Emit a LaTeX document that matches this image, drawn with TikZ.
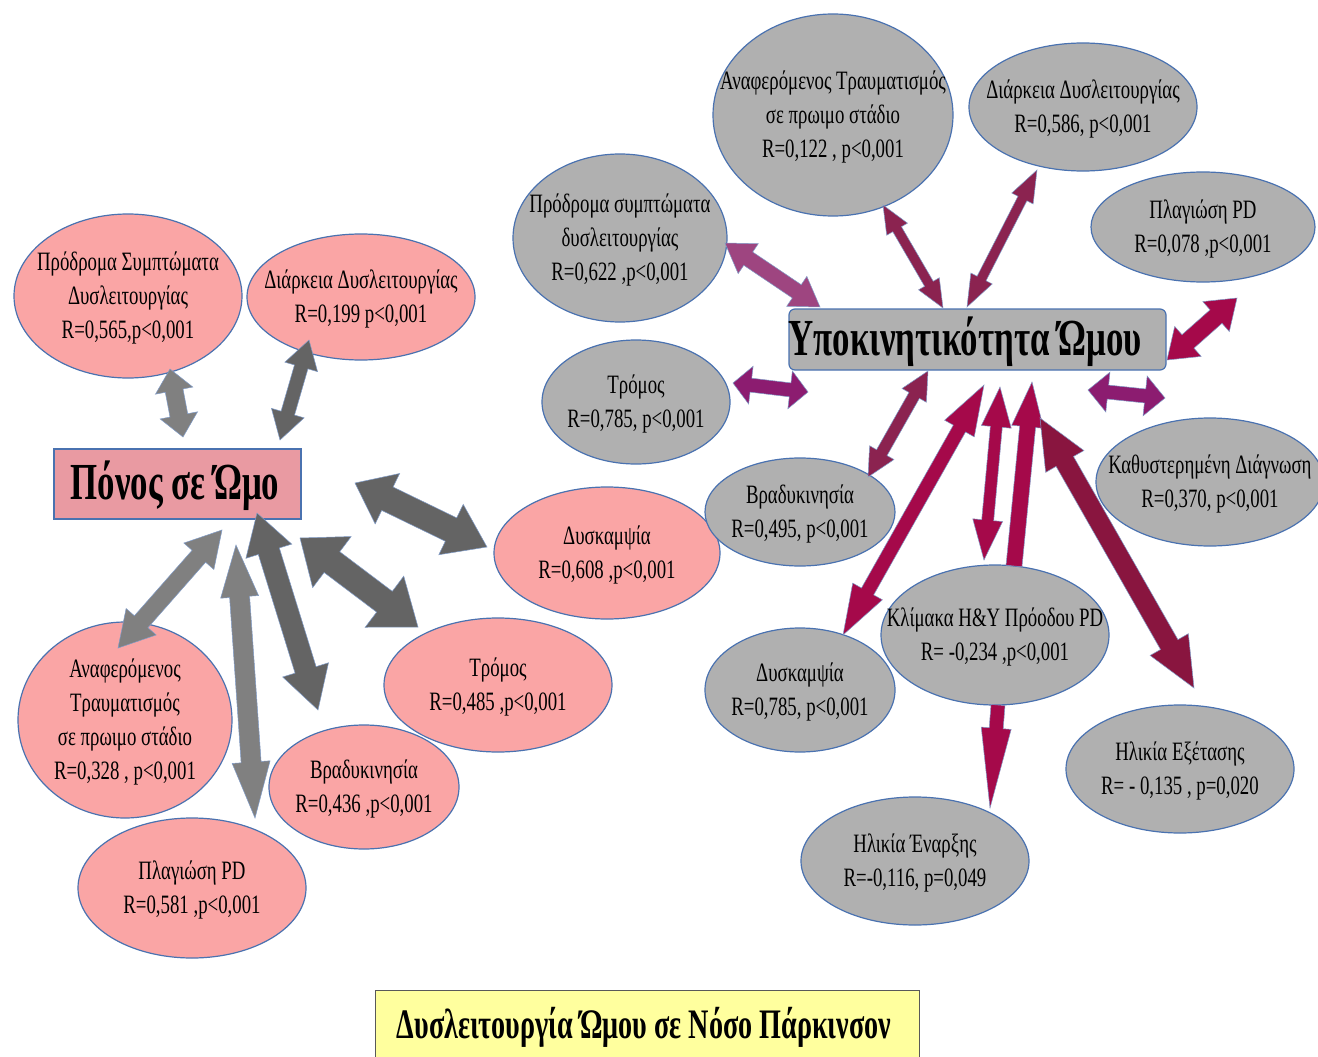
\documentclass[tikz,border=0pt]{standalone}
\usepackage{fontspec}
\newfontfamily\cfont[FakeStretch=0.71]{Liberation Serif}
\newfontfamily\hfont[FakeStretch=0.67]{Liberation Serif}
\usetikzlibrary{shapes.geometric,calc}

\definecolor{pinkfill}{HTML}{FAA5A5}
\definecolor{painfill}{HTML}{E99AA2}
\definecolor{grayfill}{HTML}{B0B0B0}
\definecolor{edgeblue}{HTML}{4A72B0}
\definecolor{yellowfill}{HTML}{FFFF9E}
\definecolor{lgray}{HTML}{808080}
\definecolor{dgray}{HTML}{646464}
\definecolor{mauve}{HTML}{9E4580}
\definecolor{violet}{HTML}{8C1C70}
\definecolor{maroon}{HTML}{8B2350}
\definecolor{crimson}{HTML}{A5094A}
\definecolor{wine}{HTML}{89153F}

% block arrow with a head at both ends: style, from, to, half shaft, half head, head length at from, at to
\newcommand{\dblarrow}[7]{%
  \coordinate (ha) at ($(#2)!#6!(#3)$);
  \coordinate (hb) at ($(#3)!#7!(#2)$);
  \path[#1] (#2) -- ($(ha)!#5!90:(#3)$) -- ($(ha)!#4!90:(#3)$)
    -- ($(hb)!#4!-90:(#2)$) -- ($(hb)!#5!-90:(#2)$) -- (#3)
    -- ($(hb)!#5!90:(#2)$) -- ($(hb)!#4!90:(#2)$)
    -- ($(ha)!#4!-90:(#3)$) -- ($(ha)!#5!-90:(#3)$) -- cycle;}
% block arrow with a single head: style, tail, tip, half shaft, half head, head length
\newcommand{\sglarrow}[6]{%
  \coordinate (hb) at ($(#3)!#6!(#2)$);
  \path[#1] ($(#2)!#4!90:(#3)$) -- ($(hb)!#4!-90:(#2)$) -- ($(hb)!#5!-90:(#2)$)
    -- (#3) -- ($(hb)!#5!90:(#2)$) -- ($(hb)!#4!90:(#2)$)
    -- ($(#2)!#4!-90:(#3)$) -- cycle;}
% elliptic bubble with centred text: style, name, centre, width, height, text
\newcommand{\bubble}[6]{%
  \node[#1, minimum width=#4pt, minimum height=#5pt,
        label={[txt]center:{#6}}] (#2) at #3 {};}

\begin{document}
\begin{tikzpicture}[x=1pt,y=-1pt,
  every node/.style={inner sep=0pt, outer sep=0pt},
  ellbase/.style={ellipse, draw=edgeblue, line width=1.2pt},
  pinkell/.style={ellbase, fill=pinkfill},
  grayell/.style={ellbase, fill=grayfill},
  txt/.style={font=\fontsize{26.5}{34}\selectfont\cfont, align=center, text=black, yshift=-2pt},
  arrowedge/.style={draw=edgeblue!70, line width=0.5pt},
  lgarrow/.style={arrowedge, fill=lgray},
  dgarrow/.style={arrowedge, fill=dgray},
  mauvearrow/.style={arrowedge, fill=mauve},
  violetarrow/.style={arrowedge, fill=violet},
  maroonarrow/.style={arrowedge, fill=maroon},
  crimsonarrow/.style={arrowedge, fill=crimson},
  winearrow/.style={arrowedge, fill=wine},
]
\clip (0,0) rectangle (1318,1057);
\fill[white] (0,0) rectangle (1318,1057);

% ---------- shoulder pain group ----------
\node[draw=edgeblue, line width=1.2pt, fill=painfill, minimum width=247pt, minimum height=70pt] (pain) at (177.5,484) {};
\node[font=\fontsize{52}{58}\selectfont\hfont\bfseries] (paintext) at (175,486) {Πόνος σε Ώμο};

\bubble{pinkell}{pprod}{(128,296)}{228}{164}{Πρόδρομα Συμπτώματα\\Δυσλειτουργίας\\R=0,565,p<0,001}
\bubble{pinkell}{pdiar}{(361,297)}{228}{126}{Διάρκεια Δυσλειτουργίας\\R=0,199 p<0,001}
\bubble{pinkell}{pdysk}{(607,553)}{226}{132}{Δυσκαμψία\\R=0,608 ,p<0,001}
\bubble{pinkell}{ptrom}{(498,685)}{228}{134}{Τρόμος\\R=0,485 ,p<0,001}
\bubble{pinkell}{panaf}{(125,720)}{214}{196}{Αναφερόμενος\\Τραυματισμός\\σε πρωιμο στάδιο\\R=0,328 , p<0,001}
\bubble{pinkell}{pbrad}{(364,787)}{190}{124}{Βραδυκινησία\\R=0,436 ,p<0,001}
\bubble{pinkell}{pplag}{(192,888)}{228}{140}{Πλαγιώση PD\\R=0,581 ,p<0,001}

% ---------- hypokinesia group ----------
\node[draw=edgeblue, line width=1.2pt, fill=grayfill, rounded corners=6pt,
      minimum width=377pt, minimum height=61pt] (hypo) at (977.5,339.5) {};
\node[font=\fontsize{52}{58}\selectfont\hfont\bfseries] (hypotext) at (965,342) {Υποκινητικότητα Ώμου};

\bubble{grayell}{ganaf}{(833,115)}{240}{202}{Αναφερόμενος Τραυματισμός\\σε πρωιμο στάδιο\\R=0,122 , p<0,001}
\bubble{grayell}{gdiar}{(1083,107)}{228}{128}{Διάρκεια Δυσλειτουργίας\\R=0,586, p<0,001}
\bubble{grayell}{gplag}{(1203,227)}{224}{110}{Πλαγιώση PD\\R=0,078 ,p<0,001}
\bubble{grayell}{gprod}{(620,238)}{214}{168}{Πρόδρομα συμπτώματα\\δυσλειτουργίας\\R=0,622 ,p<0,001}
\bubble{grayell}{gtrom}{(636,402)}{188}{124}{Τρόμος\\R=0,785, p<0,001}
\bubble{grayell}{gbrad}{(800,512)}{190}{108}{Βραδυκινησία\\R=0,495, p<0,001}
\bubble{grayell}{gkath}{(1210,482)}{228}{128}{Καθυστερημένη Διάγνωση\\R=0,370, p<0,001}
\bubble{grayell}{gdysk}{(800,690)}{190}{124}{Δυσκαμψία\\R=0,785, p<0,001}
\bubble{grayell}{gklim}{(995,635)}{228}{140}{Κλίμακα Η\&Υ Πρόοδου PD\\R= -0,234 ,p<0,001}
\bubble{grayell}{gexet}{(1180,769)}{228}{128}{Ηλικία Εξέτασης\\R= - 0,135 , p=0,020}
\bubble{grayell}{genar}{(915,861)}{228}{128}{Ηλικία Έναρξης\\R=-0,116, p=0,049}

% ---------- title ----------
\node[draw=black!65, line width=1pt, fill=yellowfill, minimum width=544pt, minimum height=80pt,
      anchor=north west] (title) at (375,990) {};
\node[font=\fontsize{42}{48}\selectfont\hfont\bfseries] (titletext) at (644,1027) {Δυσλειτουργία Ώμου σε Νόσο Πάρκινσον};

% ---------- arrow end points ----------
\coordinate (pprod-e) at (170,369);   \coordinate (pain-a) at (183,437);
\coordinate (pdiar-e) at (309,340);   \coordinate (pain-b) at (280,440);
\coordinate (pain-c) at (355,483);    \coordinate (pdysk-e) at (487,547);
\coordinate (pain-d) at (300,538);    \coordinate (ptrom-e) at (418,627);
\coordinate (pain-e) at (257,513);    \coordinate (pbrad-e) at (318,710);
\coordinate (pain-f) at (236,545);    \coordinate (pplag-e) at (255,818);
\coordinate (pain-g) at (222,530);    \coordinate (panaf-e) at (118,648);

\coordinate (ganaf-e) at (883,205);   \coordinate (hypo-a) at (943,308);
\coordinate (gdiar-e) at (1037,170);  \coordinate (hypo-b) at (967,307);
\coordinate (gplag-e) at (1237,298);  \coordinate (hypo-c) at (1167,360);
\coordinate (gprod-e) at (725,243);   \coordinate (hypo-d) at (820,307);
\coordinate (gtrom-e) at (733,383);   \coordinate (hypo-e) at (808,392);
\coordinate (hypo-f) at (1088,390);   \coordinate (gkath-e) at (1165,398);
\coordinate (hypo-g) at (928,371);    \coordinate (gbrad-e) at (868,477);
\coordinate (hypo-h) at (984,385);    \coordinate (gdysk-e) at (843,635);
\coordinate (hypo-i) at (1000,387);   \coordinate (gklim-a) at (984,560);
\coordinate (gklim-b) at (1014,566);  \coordinate (hypo-j) at (1032,382);
\coordinate (hypo-k) at (1040,418);   \coordinate (gexet-e) at (1194,688);
\coordinate (gklim-c) at (998,705);   \coordinate (genar-e) at (990,808);

% ---------- grey arrows ----------
\dblarrow{lgarrow}{pprod-e}{pain-a}{9pt}{19pt}{22pt}{22pt}
\dblarrow{dgarrow}{pdiar-e}{pain-b}{7pt}{17pt}{28pt}{28pt}
\dblarrow{dgarrow}{pain-c}{pdysk-e}{13pt}{28pt}{36pt}{40pt}
\dblarrow{dgarrow}{pain-d}{ptrom-e}{13pt}{32pt}{40pt}{42pt}
\dblarrow{dgarrow}{pain-e}{pbrad-e}{11pt}{24pt}{40pt}{42pt}
\dblarrow{lgarrow}{pain-f}{pplag-e}{10pt}{19pt}{52pt}{56pt}
\dblarrow{lgarrow}{pain-g}{panaf-e}{9pt}{20pt}{35pt}{35pt}

% ---------- coloured arrows ----------
\dblarrow{maroonarrow}{ganaf-e}{hypo-a}{5pt}{12pt}{28pt}{28pt}
\dblarrow{maroonarrow}{gdiar-e}{hypo-b}{5pt}{12pt}{32pt}{32pt}
\dblarrow{crimsonarrow}{gplag-e}{hypo-c}{9pt}{20pt}{28pt}{28pt}
\dblarrow{mauvearrow}{gprod-e}{hypo-d}{8pt}{18pt}{28pt}{28pt}
\dblarrow{violetarrow}{gtrom-e}{hypo-e}{7pt}{19pt}{18pt}{18pt}
\dblarrow{violetarrow}{hypo-f}{gkath-e}{7pt}{20pt}{20pt}{20pt}
\dblarrow{maroonarrow}{hypo-g}{gbrad-e}{6pt}{14pt}{28pt}{28pt}
\dblarrow{crimsonarrow}{hypo-h}{gdysk-e}{7pt}{17pt}{50pt}{50pt}
\dblarrow{crimsonarrow}{hypo-i}{gklim-a}{6pt}{15pt}{40pt}{40pt}
\sglarrow{crimsonarrow}{gklim-b}{hypo-j}{8pt}{16pt}{45pt}
\dblarrow{winearrow}{hypo-k}{gexet-e}{10pt}{22pt}{50pt}{50pt}
\sglarrow{crimsonarrow}{gklim-c}{genar-e}{7pt}{15pt}{80pt}
\end{tikzpicture}
\end{document}
